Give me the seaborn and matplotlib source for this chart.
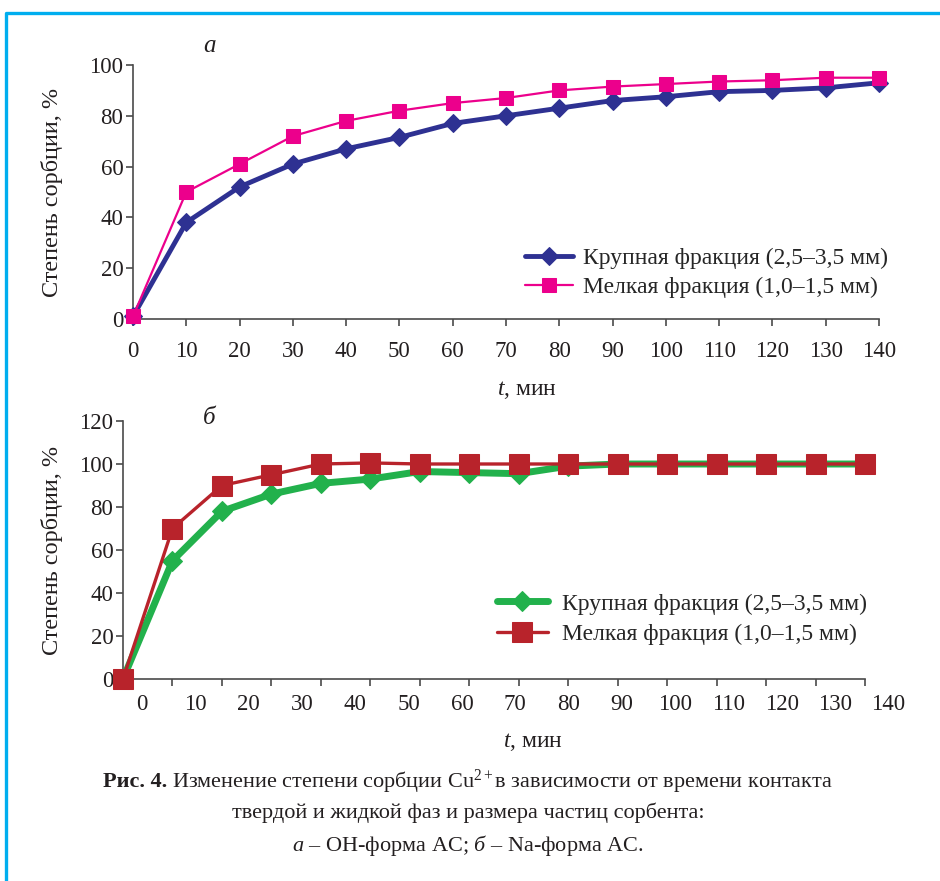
import matplotlib
matplotlib.use("Agg")
import matplotlib.pyplot as plt
from matplotlib.lines import Line2D
import seaborn as sns

# Рис. а: ОН-форма, время 0..140 мин
t_a = [0, 10, 20, 30, 40, 50, 60, 70, 80, 90, 100, 110, 120, 130, 140]
krup_a = [1, 38, 52, 61, 67, 71.5, 77, 80, 83, 86, 87.5, 89.5, 90, 91, 93]
melk_a = [1, 50, 61, 72, 78, 82, 85, 87, 90, 91.5, 92.5, 93.5, 94, 95, 95]

# Рис. б: Na-форма, 16 точек; подписи оси в оригинале сдвинуты относительно точек
n_b = list(range(16))
krup_b = [0, 55, 78, 86, 91, 93, 96.5, 96, 95.5, 99, 100, 100, 100, 100, 100, 100]
melk_b = [0, 70, 90, 95, 100, 100.5, 100, 100, 100, 100, 100, 100, 100, 100, 100, 100]
xlabels_b = [0, 10, 20, 30, 40, 50, 60, 70, 80, 90, 100, 110, 120, 130, 140]

yticks_a = [0, 20, 40, 60, 80, 100]
yticks_b = [0, 20, 40, 60, 80, 100, 120]

lab_krup = "Крупная фракция (2,5–3,5 мм)"
lab_melk = "Мелкая фракция (1,0–1,5 мм)"
ylab = "Степень сорбции, %"
xlab = r"$\mathit{t}$, мин"

sns.set_style("ticks")
plt.rcParams['font.family'] = ['Liberation Serif', 'DejaVu Serif']
plt.rcParams['mathtext.fontset'] = 'custom'
plt.rcParams['mathtext.rm'] = 'Liberation Serif'
plt.rcParams['mathtext.it'] = 'Liberation Serif:italic'
plt.rcParams['mathtext.bf'] = 'Liberation Serif:bold'

W, H = 940, 881
fig = plt.figure(figsize=(W / 100, H / 100), dpi=100)
FS = 16.5
TXT = '#231F20'


def box(l, t, r, b):
    return [l / W, 1 - b / H, (r - l) / W, (b - t) / H]


def style(ax):
    for s in ['top', 'right']:
        ax.spines[s].set_visible(False)
    for s in ['left', 'bottom']:
        ax.spines[s].set_color('#4a4a4a')
        ax.spines[s].set_linewidth(1.2)
    ax.tick_params(colors='#4a4a4a', labelcolor=TXT, labelsize=FS,
                   length=5, width=1.2)
    ax.tick_params(axis='y', pad=2)


# ---- а ----
ax1 = fig.add_axes(box(133, 65, 879, 319))
sns.lineplot(x=t_a, y=krup_a, ax=ax1, color='#2E3192', linewidth=3.5,
             marker='D', markersize=9, markeredgecolor='#2E3192',
             label=lab_krup, clip_on=False, zorder=3)
sns.lineplot(x=t_a, y=melk_a, ax=ax1, color='#EC008C', linewidth=1.6,
             marker='s', markersize=10, markeredgecolor='#EC008C',
             label=lab_melk, clip_on=False, zorder=4)
ax1.set_xlim(0, 140)
ax1.set_ylim(0, 100)
ax1.set_xticks(t_a)
ax1.set_yticks(yticks_a)
style(ax1)
ax1.tick_params(axis='x', pad=11)
ax1.set_ylabel(ylab, fontsize=17.5, color=TXT)
ax1.yaxis.set_label_coords(-0.094, 0.5)
ax1.set_xlabel(xlab, fontsize=17, color=TXT)
ax1.xaxis.set_label_coords(0.528, -0.235)
ax1.legend(loc='center left', bbox_to_anchor=(525 / W, 1 - 273 / H),
           bbox_transform=fig.transFigure, frameon=False, fontsize=17,
           handlelength=2.05, handletextpad=0.42, labelspacing=0.3,
           borderpad=0, borderaxespad=0)

# ---- б ----
ax2 = fig.add_axes(box(123, 421, 865, 679))
sns.lineplot(x=n_b, y=krup_b, ax=ax2, color='#22B14C', linewidth=5,
             marker='D', markersize=10, markeredgecolor='#22B14C',
             label=lab_krup, clip_on=False, zorder=3)
sns.lineplot(x=n_b, y=melk_b, ax=ax2, color='#B8232B', linewidth=2.4,
             marker='s', markersize=15, markeredgecolor='#B8232B',
             label=lab_melk, clip_on=False, zorder=4)
ax2.set_xlim(0, 15)
ax2.set_ylim(0, 120)
ax2.set_xticks(n_b[1:])
ax2.set_xticklabels([])
ax2.set_yticks(yticks_b)
style(ax2)
ax2.set_ylabel(ylab, fontsize=17.5, color=TXT)
ax2.yaxis.set_label_coords(-0.081, 0.5)
ax2.set_xlabel(xlab, fontsize=17, color=TXT)
ax2.xaxis.set_label_coords(0.553, -0.2)
ax2.legend(loc='center left', bbox_to_anchor=(497 / W, 1 - 619 / H),
           bbox_transform=fig.transFigure, frameon=False, fontsize=17,
           handlelength=2.15, handletextpad=0.6, labelspacing=0.38,
           borderpad=0, borderaxespad=0)

# подписи оси б - отдельная невидимая ось, шаг как на рис. а
axl = fig.add_axes(box(123, 421, 903, 679))
axl.set_xlim(-3.563, 142.7)
axl.set_xticks(xlabels_b)
axl.set_yticks([])
axl.patch.set_visible(False)
for s in axl.spines.values():
    s.set_visible(False)
axl.tick_params(axis='x', length=0, labelsize=FS, labelcolor=TXT, pad=11)

fig.text(209 / W, 1 - 46 / H, "а", fontsize=18, style='italic', ha='center', va='center', color=TXT)
fig.text(209 / W, 1 - 418 / H, "б", fontsize=18, style='italic', ha='center', va='center', color=TXT)

# подпись к рисунку
CFS = 16
y1 = 1 - 782 / H
t_bold = fig.text(0, y1, "Рис. 4.", fontsize=CFS, weight='bold', ha='left', va='center', color=TXT)
t_rest = fig.text(0, y1, "Изменение степени сорбции Cu$^{2+}$в зависимости от времени контакта",
                  fontsize=CFS, ha='left', va='center', color=TXT)
r = fig.canvas.get_renderer()
w1 = t_bold.get_window_extent(r).width
w2 = t_rest.get_window_extent(r).width
gap = 5
x0 = 468 - (w1 + gap + w2) / 2
t_bold.set_x(x0 / W)
t_rest.set_x((x0 + w1 + gap) / W)

fig.text(468 / W, 1 - 813 / H, "твердой и жидкой фаз и размера частиц сорбента:",
         fontsize=CFS, ha='center', va='center', color=TXT)
fig.text(468 / W, 1 - 845 / H, r"$\mathit{а}$ – ОН-форма АС; $\mathit{б}$ – Na-форма АС.",
         fontsize=CFS, ha='center', va='center', color=TXT)

# голубая рамка
fig.add_artist(Line2D([6 / W, 6 / W, 1.0], [0.0, 1 - 13 / H, 1 - 13 / H],
                      color='#00AEEF', linewidth=2.4, transform=fig.transFigure))

fig.savefig("out.png", dpi=100)
